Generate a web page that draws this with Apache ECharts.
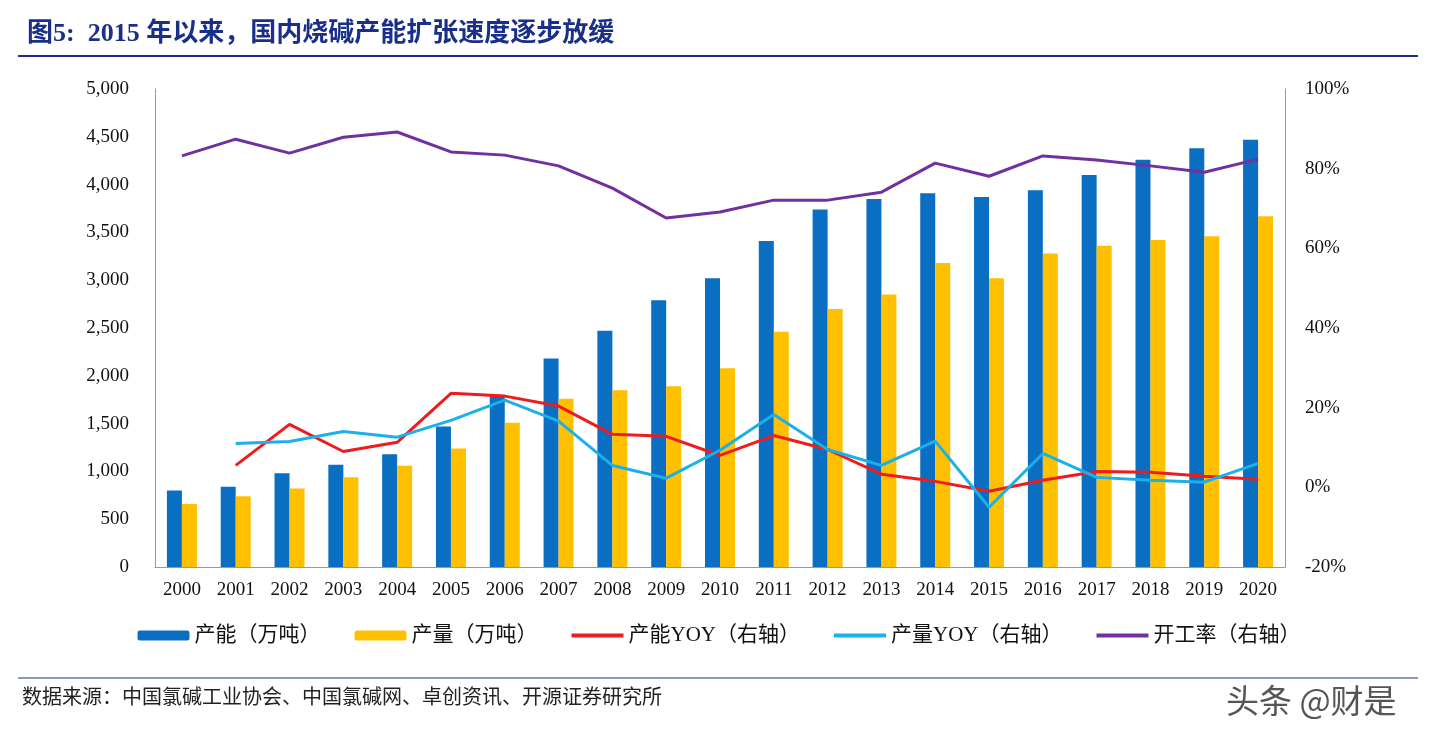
<!DOCTYPE html>
<html><head><meta charset="utf-8">
<script src="https://cdn.jsdelivr.net/npm/echarts@6/dist/echarts.min.js"></script>
<style>html,body{margin:0;padding:0;background:#fff}#c{width:1438px;height:739px}</style>
</head><body><div id="c"></div>
<script>
var years = ['2000','2001','2002','2003','2004','2005','2006','2007','2008','2009','2010','2011','2012','2013','2014','2015','2016','2017','2018','2019','2020'];
var capacity = [800,840,980,1070,1180,1470,1800,2180,2470,2790,3020,3410,3740,3850,3910,3870,3940,4100,4260,4380,4470];
var output = [660,740,820,940,1060,1240,1510,1760,1850,1890,2080,2460,2700,2850,3180,3020,3280,3360,3420,3460,3670];
var capYoy = [null,5.5,15.8,9,11.3,23.6,22.9,20.4,13.3,12.8,8,13,9.5,3.3,1.5,-1,1.8,4,3.8,2.8,2];
var outYoy = [null,11,11.5,14,12.6,16.8,21.9,16.6,5.5,2.3,9.3,18.3,9.5,5.5,11.6,-5,8.5,2.5,1.8,1.3,6];
var opRate = [83.2,87.4,83.9,87.9,89.2,84.2,83.4,80.7,75.1,67.6,69.1,72.1,72.1,74.1,81.4,78.1,83.2,82.2,80.7,79.1,82.4];

var chart = echarts.init(document.getElementById('c'));
var serif = '"Liberation Serif","Times New Roman",serif';
var cjk = '"Liberation Serif","Noto Sans CJK SC",serif';
var lineS = function(name, data, color){
    return {name:name,type:'line',yAxisIndex:1,data:data,symbol:'none',
        lineStyle:{color:color,width:3},itemStyle:{color:color}};
};
var lineIcon = 'path://M0,0L50,0L50,4L0,4Z';
chart.setOption({
    animation:false,
    title:{text:'图5:  2015 年以来，国内烧碱产能扩张速度逐步放缓',left:22,top:16,
        textStyle:{color:'#1a2f8a',fontSize:26,fontWeight:'bold',fontFamily:cjk}},
    graphic:[
        {type:'line',shape:{x1:18,y1:56,x2:1418,y2:56},style:{stroke:'#1a2f8a',lineWidth:2}},
        {type:'line',shape:{x1:18,y1:678,x2:1418,y2:678},style:{stroke:'#1a2f8a',lineWidth:1}},
        {type:'text',left:22,top:689,style:{text:'数据来源：中国氯碱工业协会、中国氯碱网、卓创资讯、开源证券研究所',
            fontSize:20,fill:'#222',fontFamily:cjk}},
        {type:'text',left:1226,top:684,style:{text:'头条 @财是',fontSize:33,fill:'#555',fontFamily:'"Noto Sans CJK SC",sans-serif'}}
    ],
    legend:{bottom:88,left:'center',itemGap:34,itemWidth:52,itemHeight:10,
        textStyle:{fontSize:21,fontFamily:cjk,color:'#111'},
        data:[{name:'产能（万吨）'},{name:'产量（万吨）'},
            {name:'产能YOY（右轴）',icon:lineIcon},{name:'产量YOY（右轴）',icon:lineIcon},{name:'开工率（右轴）',icon:lineIcon}]},
    grid:{left:155,right:153,top:89,bottom:172},
    xAxis:{type:'category',data:years,
        axisLine:{lineStyle:{color:'#999'}},axisTick:{show:false},
        axisLabel:{fontSize:19,color:'#111',fontFamily:serif,margin:14}},
    yAxis:[
        {type:'value',min:0,max:5000,interval:500,
            axisLine:{show:true,lineStyle:{color:'#999'}},splitLine:{show:false},
            axisLabel:{fontSize:19,color:'#111',fontFamily:serif,margin:26,
                formatter:function(v){return v.toLocaleString('en-US');}}},
        {type:'value',min:-20,max:100,interval:20,
            axisLine:{show:true,lineStyle:{color:'#999'}},splitLine:{show:false},
            axisLabel:{fontSize:19,color:'#111',fontFamily:serif,margin:20,formatter:'{value}%'}}
    ],
    series:[
        {name:'产能（万吨）',type:'bar',data:capacity,barWidth:15,barGap:'0%',itemStyle:{color:'#0a6fc2'}},
        {name:'产量（万吨）',type:'bar',data:output,barWidth:15,itemStyle:{color:'#ffc000'}},
        lineS('产能YOY（右轴）',capYoy,'#ee1c1c'),
        lineS('产量YOY（右轴）',outYoy,'#1ab0ea'),
        lineS('开工率（右轴）',opRate,'#7030a0')
    ]
});
</script></body></html>
